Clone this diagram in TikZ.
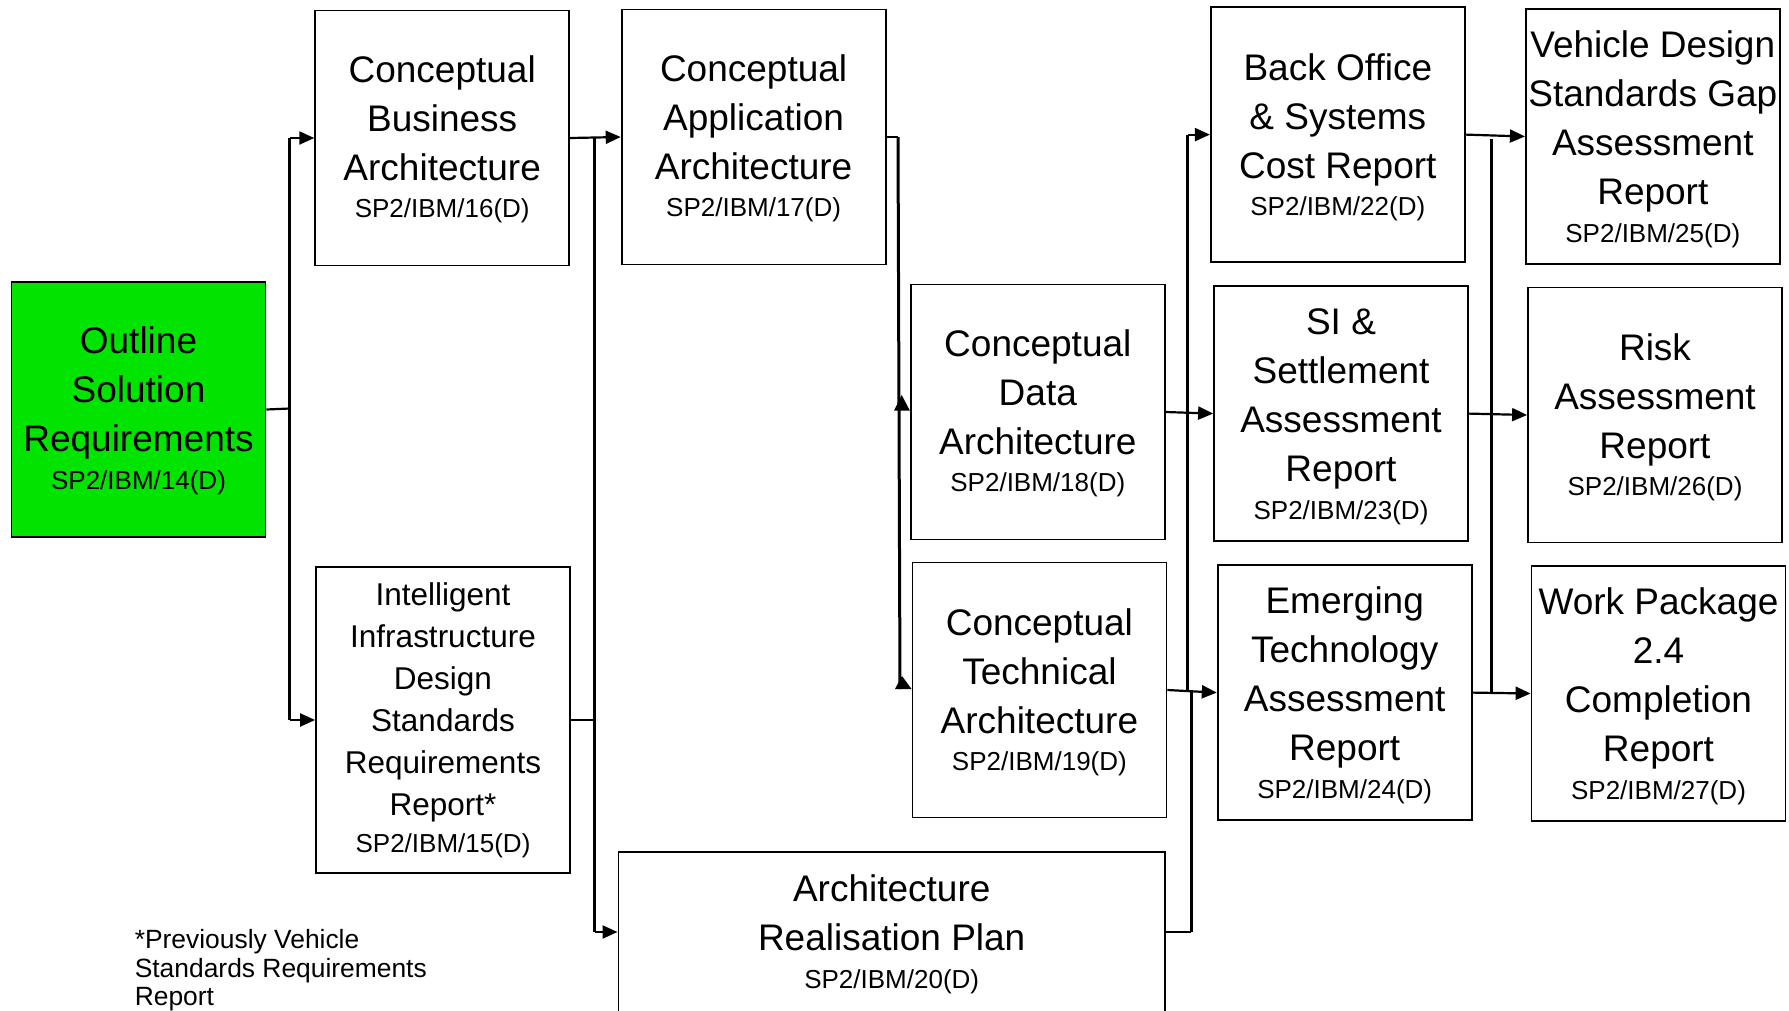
\documentclass[tikz,border=0pt]{standalone}
\usepackage{fontspec}
\setmainfont{Liberation Sans}
\usetikzlibrary{arrows.meta}
\definecolor{outlinegreen}{RGB}{0,228,0}
\newcommand{\idcode}[1]{{\fontsize{26}{30}\selectfont #1}}
\begin{document}
\begin{tikzpicture}[x=1pt,y=-1pt,
  doc/.style={draw, line width=1.8pt, inner sep=0pt, align=center,
    minimum width=254pt, minimum height=255pt,
    font=\fontsize{37}{49}\selectfont},
  low/.style={text depth=#1},
  low/.default=0pt,
  conn/.style={line width=2.2pt},
  trunk/.style={line width=3pt},
  arr/.style={conn, -{Triangle[length=15pt,width=13pt]}},
  tip/.style={fill=black}]
\useasboundingbox (0,0) rectangle (1789,1010);

% deliverables
\node[doc, low=3pt, fill=outlinegreen] (osr) at (138.5,409.5)
  {Outline\\Solution\\Requirements\\[-11pt]\idcode{SP2/IBM/14(D)}};
\node[doc, low=3pt] (cba) at (442.2,138)
  {Conceptual\\Business\\Architecture\\[-12pt]\idcode{SP2/IBM/16(D)}};
\node[doc, minimum height=306pt, font=\fontsize{31.5}{42}\selectfont] (iids) at (443,720)
  {Intelligent\\Infrastructure\\Design\\Standards\\Requirements\\Report*\\[-5pt]\idcode{SP2/IBM/15(D)}};
\node[doc, low=3pt, minimum width=264pt] (caa) at (753.6,137)
  {Conceptual\\Application\\Architecture\\[-12pt]\idcode{SP2/IBM/17(D)}};
\node[doc, low=2pt] (cda) at (1037.8,412)
  {Conceptual\\Data\\Architecture\\[-12pt]\idcode{SP2/IBM/18(D)}};
\node[doc, low] (cta) at (1039.4,690)
  {Conceptual\\Technical\\Architecture\\[-12pt]\idcode{SP2/IBM/19(D)}};
\node[doc, low=10pt, minimum width=546.6pt, minimum height=170pt] (arp) at (891.7,937)
  {Architecture\\Realisation Plan\\[-11pt]\idcode{SP2/IBM/20(D)}};
\node[doc, low] (bo) at (1337.8,134.6)
  {Back Office\\\& Systems\\Cost Report\\[-12pt]\idcode{SP2/IBM/22(D)}};
\node[doc, low] (si) at (1341,413.6)
  {SI \&\\Settlement\\Assessment\\Report\\[-11pt]\idcode{SP2/IBM/23(D)}};
\node[doc, low] (etr) at (1344.7,692.6)
  {Emerging\\Technology\\Assessment\\Report\\[-11pt]\idcode{SP2/IBM/24(D)}};
\node[doc, low] (vds) at (1652.8,136.5)
  {Vehicle Design\\Standards Gap\\Assessment\\Report\\[-11pt]\idcode{SP2/IBM/25(D)}};
\node[doc, low] (risk) at (1655,415)
  {Risk\\Assessment\\Report\\[-12pt]\idcode{SP2/IBM/26(D)}};
\node[doc, low] (wp) at (1658.5,693.5)
  {Work Package\\2.4\\Completion\\Report\\[-11pt]\idcode{SP2/IBM/27(D)}};

% footnote
\node[anchor=west, align=left, inner sep=0pt, font=\fontsize{26.4}{28.5}\selectfont] (note)
  at (134.6,970.5) {*Previously Vehicle\\Standards Requirements\\Report};

% junction points
\coordinate (j1) at (289.8,408.5);
\coordinate (j2top) at (594.5,137);
\coordinate (j2bot) at (594.5,932);
\coordinate (j3top) at (898,137);
\coordinate (j3bot) at (900,689);
\coordinate (j4top) at (1187.8,134.6);
\coordinate (j4bot) at (1187.8,690.5);
\coordinate (j5) at (1191.2,932);
\coordinate (j6top) at (1491.3,139);
\coordinate (j6bot) at (1491.3,692);

% outline -> business / infrastructure
\draw[conn] (osr.east) -- (j1);
\draw[trunk] (j1 |- cba.west) -- (j1 |- iids.west);
\draw[arr] (j1 |- cba.west) -- (cba.west);
\draw[arr] (j1 |- iids.west) -- (iids.west);

% business / infrastructure -> application / realisation
\draw[arr] (cba.east) -- (caa.west);
\draw[trunk] (j2top) -- (j2bot);
\draw[conn] (iids.east) -- (iids.east -| j2top);
\draw[arr] (j2bot) -- (j2bot -| arp.west);

% application -> data / technical
\draw[conn] (caa.east) -- (j3top);
\draw[trunk] (j3top) -- (j3bot);
\fill[tip] (894,410.7) -- (cda.west |- 0,410.7) -- (901.7,395) -- cycle;
\fill[tip] (895,689) -- (cta.west |- 0,689) -- (902,676) -- cycle;

% data / technical / realisation -> third column
\draw[arr] (cda.east) -- (si.west);
\draw[arr] (cta.east) -- (etr.west);
\draw[trunk] (j4top) -- (j4bot);
\draw[arr] (j4top) -- (bo.west);
\draw[conn] (arp.east |- j5) -- (j5);
\draw[trunk] (j5) -- (j5 |- j4bot);

% third column -> fourth column
\draw[arr] (bo.east) -- (vds.west);
\draw[arr] (si.east) -- (risk.west);
\draw[arr] (etr.east) -- (wp.west);
\draw[trunk] (j6top) -- (j6bot);
\end{tikzpicture}
\end{document}
